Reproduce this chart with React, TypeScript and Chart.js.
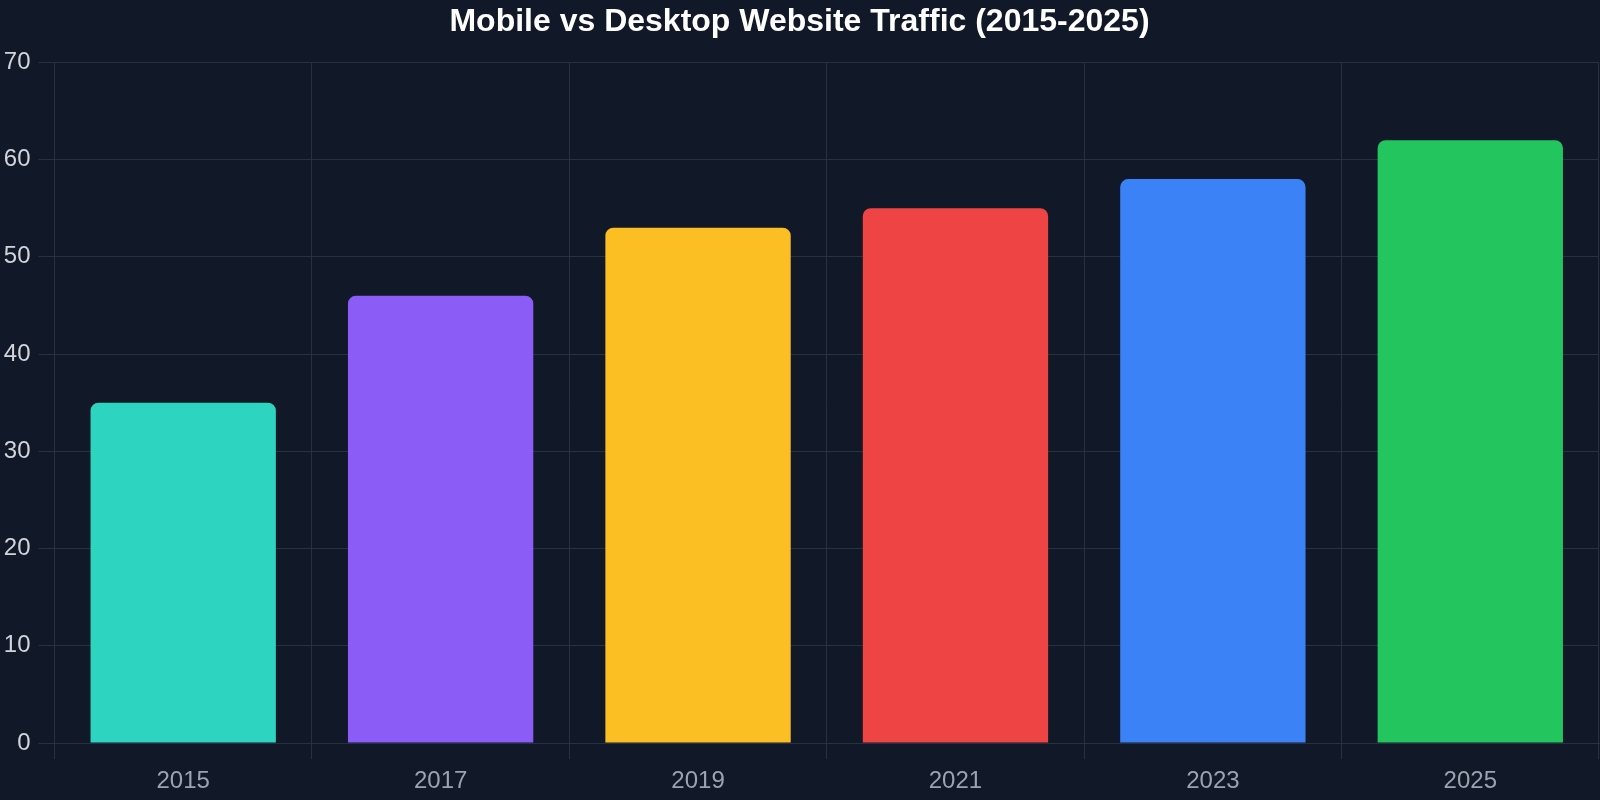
import { useEffect, useRef } from "react";
import { Chart, registerables } from "chart.js";

Chart.register(...registerables);

const YEARS = ["2015", "2017", "2019", "2021", "2023", "2025"];
const MOBILE_SHARE = [35, 46, 53, 55, 58, 62];
const BAR_COLORS = ["#2dd4bf", "#8b5cf6", "#fbbf24", "#ef4444", "#3b82f6", "#22c55e"];

const GRID = "#283142";
const FONT = "'Liberation Sans', Arial, sans-serif";

export default function App() {
  const canvasRef = useRef<HTMLCanvasElement>(null);
  const chartRef = useRef<Chart | null>(null);

  useEffect(() => {
    document.body.style.margin = "0";
    document.body.style.background = "#111827";
    if (!canvasRef.current || chartRef.current) return;

    chartRef.current = new Chart(canvasRef.current, {
      type: "bar",
      data: {
        labels: YEARS,
        datasets: [
          {
            label: "Mobile traffic (%)",
            data: MOBILE_SHARE,
            backgroundColor: BAR_COLORS,
            borderWidth: 0,
            borderRadius: 8,
          },
        ],
      },
      options: {
        responsive: false,
        animation: false,
        layout: { padding: { left: 0, right: 1, top: 0, bottom: 0 } },
        plugins: {
          legend: { display: false },
          tooltip: { enabled: false },
          title: {
            display: true,
            text: "Mobile vs Desktop Website Traffic (2015-2025)",
            color: "#ffffff",
            font: { family: FONT, size: 32, weight: "bold" },
            padding: { top: 3, bottom: 21 },
          },
        },
        scales: {
          x: {
            grid: { color: GRID, tickLength: 16 },
            border: { color: GRID },
            ticks: {
              color: "#9ca3af",
              padding: 8,
              font: { family: FONT, size: 24 },
            },
            afterFit: (scale) => {
              scale.height = 57;
            },
          },
          y: {
            min: 0,
            max: 70,
            grid: { color: GRID, tickLength: 16 },
            border: { color: GRID },
            ticks: {
              stepSize: 10,
              color: "#d1d5db",
              padding: 8,
              font: { family: FONT, size: 24 },
            },
            afterFit: (scale) => {
              scale.width = 54.5;
            },
          },
        },
      },
    });

    return () => {
      chartRef.current?.destroy();
      chartRef.current = null;
    };
  }, []);

  return (
    <div style={{ width: 1600, height: 800, background: "#111827" }}>
      <canvas ref={canvasRef} width={1600} height={800} />
    </div>
  );
}
